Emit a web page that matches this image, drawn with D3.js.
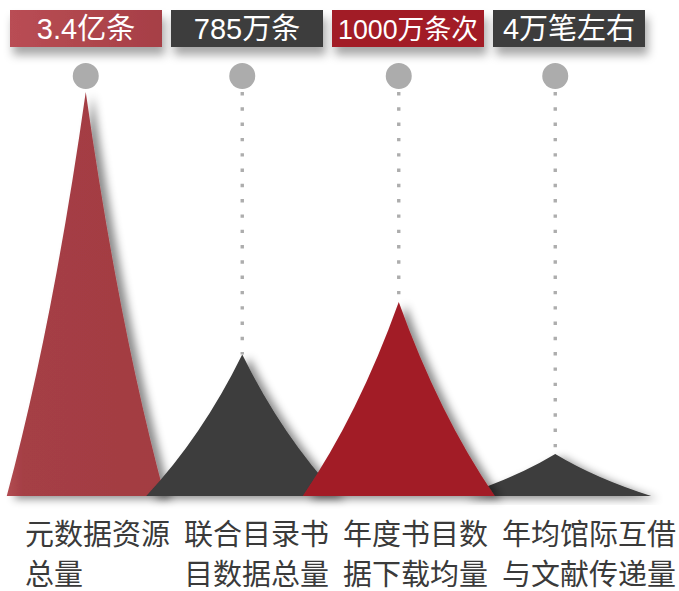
<!DOCTYPE html>
<html>
<head>
<meta charset="utf-8">
<script src="https://cdn.jsdelivr.net/npm/d3@7/dist/d3.min.js"></script>
<style>
  html, body { margin: 0; padding: 0; background: #ffffff; }
  svg { display: block; }
</style>
</head>
<body>
<div id="chart"></div>
<script>
// ---- data ----
const categories = ['元数据资源总量', '联合目录书目数据总量', '年度书目数据下载均量', '年均馆际互借与文献传递量'];
const valueLabels = ['3.4亿条', '785万条', '1000万条次', '4万笔左右'];
const spikeHeights = [100, 35, 48, 10.4];           // relative spike heights
const labelLines = [
  ['元数据资源', '总量'],
  ['联合目录书', '目数据总量'],
  ['年度书目数', '据下载均量'],
  ['年均馆际互借', '与文献传递量']
];

// ---- styles ----
const W = 679, H = 591;
const RED1 = '#a53f45', RED2 = '#a21f27', DARK = '#3c3c3c';
const spikeColors = ['url(#g-spike1)', DARK, RED2, DARK];
const boxColors = ['url(#g-box1)', DARK, RED2, DARK];
const spikeHalfWidth = [79, 96, 96, 96];
const drawOrder = [0, 1, 3, 2];
const FONT = '"Liberation Sans", "Noto Sans CJK SC", "Noto Sans", sans-serif';

const svg = d3.select('#chart').append('svg')
  .attr('width', W).attr('height', H)
  .attr('viewBox', `0 0 ${W} ${H}`);

const defs = svg.append('defs');
const fs = defs.append('filter').attr('id', 'sh-spike')
  .attr('x', '-30%').attr('y', '-10%').attr('width', '160%').attr('height', '130%');
fs.append('feDropShadow').attr('dx', 7).attr('dy', 3).attr('stdDeviation', 4)
  .attr('flood-color', '#000').attr('flood-opacity', 0.45);
const fb = defs.append('filter').attr('id', 'sh-box')
  .attr('x', '-20%').attr('y', '-30%').attr('width', '140%').attr('height', '190%');
fb.append('feDropShadow').attr('dx', 3).attr('dy', 8).attr('stdDeviation', 5)
  .attr('flood-color', '#000').attr('flood-opacity', 0.35);

const g1 = defs.append('linearGradient').attr('id', 'g-spike1')
  .attr('x1', 0).attr('x2', 1).attr('y1', 0).attr('y2', 0);
g1.append('stop').attr('offset', '0%').attr('stop-color', '#b24c52');
g1.append('stop').attr('offset', '10%').attr('stop-color', RED1);
g1.append('stop').attr('offset', '100%').attr('stop-color', '#a33c42');
const g2 = defs.append('linearGradient').attr('id', 'g-box1')
  .attr('x1', 0).attr('x2', 1).attr('y1', 0).attr('y2', 0);
g2.append('stop').attr('offset', '0%').attr('stop-color', '#b94d54');
g2.append('stop').attr('offset', '100%').attr('stop-color', '#a63f46');

// ---- scales ----
const xPeak = d3.scaleBand().domain(categories).range([7.5, 633.5]);
const xBox = d3.scaleBand().domain(categories).range([10, 645]).paddingInner(0.056);
const xLabel = d3.scaleBand().domain(categories).range([25, 25 + 159 * 4]);
const y = d3.scaleLinear().domain([0, 100]).range([496, 92]);

const data = categories.map((c, i) => ({
  cat: c, i, h: spikeHeights[i], label: valueLabels[i], lines: labelLines[i]
}));
const cx = d => xPeak(d.cat) + xPeak.bandwidth() / 2;

// ---- value boxes ----
const boxY = 10, boxH = 37;
const boxes = svg.append('g').selectAll('g').data(data).join('g');
boxes.append('rect')
  .attr('x', d => xBox(d.cat)).attr('y', boxY)
  .attr('width', xBox.bandwidth()).attr('height', boxH)
  .attr('fill', d => boxColors[d.i])
  .attr('filter', 'url(#sh-box)');
boxes.append('text')
  .attr('x', d => xBox(d.cat) + xBox.bandwidth() / 2)
  .attr('y', boxY + 29)
  .attr('text-anchor', 'middle')
  .attr('fill', '#ffffff')
  .attr('font-family', FONT)
  .attr('font-size', 29)
  .text(d => d.label)
  .each(function () {
    const len = this.getComputedTextLength();
    const maxLen = xBox.bandwidth() - 12;
    if (len > maxLen) d3.select(this).attr('font-size', 29 * maxLen / len);
  });

// ---- circles and dotted leader lines ----
const circY = 76, circR = 13;
svg.append('g').selectAll('line').data(data).join('line')
  .attr('x1', cx).attr('x2', cx)
  .attr('y1', 92).attr('y2', d => y(d.h))
  .attr('stroke', '#adadad').attr('stroke-width', 3.4)
  .attr('stroke-dasharray', '3.4 11.9');
svg.append('g').selectAll('circle').data(data).join('circle')
  .attr('cx', cx).attr('cy', circY).attr('r', circR)
  .attr('fill', '#acacac');

// ---- spikes ----
const base = y(0);
function spikePath(d) {
  const c = cx(d), top = y(d.h), hw = spikeHalfWidth[d.i];
  const h = base - top, k = 0.42;
  const p = d3.path();
  p.moveTo(c - hw, base);
  p.quadraticCurveTo(c - hw * k, base - h * k, c, top);
  p.quadraticCurveTo(c + hw * k, base - h * k, c + hw, base);
  p.closePath();
  return p.toString();
}
svg.append('g').selectAll('path')
  .data(drawOrder.map(i => data[i])).join('path')
  .attr('d', spikePath)
  .attr('fill', d => spikeColors[d.i])
  .attr('filter', 'url(#sh-spike)');

// ---- category labels ----
const labels = svg.append('g').selectAll('text').data(data).join('text')
  .attr('font-family', FONT)
  .attr('font-size', 29)
  .attr('fill', '#3a3a3a');
labels.selectAll('tspan').data(d => d.lines.map((t, j) => ({ t, j, d }))).join('tspan')
  .attr('x', e => xLabel(e.d.cat))
  .attr('y', e => 545 + e.j * 40)
  .text(e => e.t);
</script>
</body>
</html>
